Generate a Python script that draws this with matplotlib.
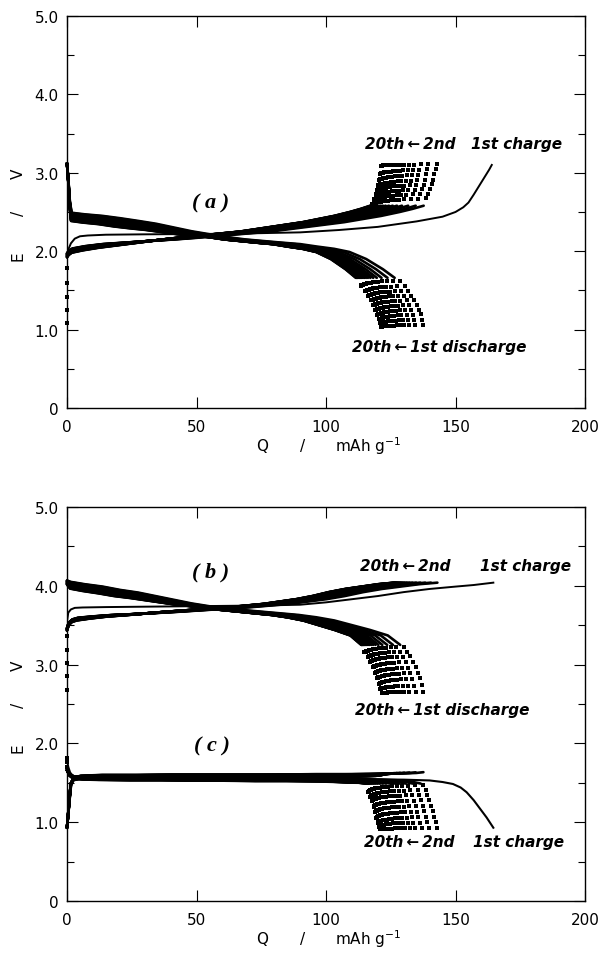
import numpy as np
import matplotlib
matplotlib.use("Agg")
import matplotlib.pyplot as plt
from matplotlib.ticker import MultipleLocator

# ---------------- axis / tick data ----------------
x_ticks = [0, 50, 100, 150, 200]
x_ticklabels = ["0", "50", "100", "150", "200"]
y_ticks = [0, 1, 2, 3, 4, 5]
y_ticklabels = ["0", "1.0", "2.0", "3.0", "4.0", "5.0"]

# ---------------- panel (a) ----------------
# discharge profile (fraction of cycle capacity, E / V), cycles 1..20
dis_a_frac = [0.0, 0.004, 0.008, 0.013, 0.05, 0.10, 0.15, 0.20, 0.25, 0.30, 0.35, 0.40,
              0.45, 0.50, 0.55, 0.60, 0.655, 0.70, 0.75, 0.793, 0.84, 0.887, 0.92]
dis_a_E = [3.12, 2.90, 2.62, 2.45, 2.43, 2.41, 2.38, 2.35, 2.32, 2.28, 2.24, 2.21,
           2.18, 2.15, 2.13, 2.11, 2.09, 2.06, 2.03, 1.99, 1.90, 1.77, 1.66]
dis_a_wt = [0, 0, 0.5, 1, 1, 1, 1, 0.9, 0.75, 0.55, 0.35, 0.15,
            0, 0, 0, 0, 0, 0, 0, 0, 0, 0, 0]
dis_a_tail_frac = [0.935, 0.948, 0.958, 0.967, 0.975, 0.982, 0.988, 0.993, 0.997, 1.0]
dis_a_tail_E = [1.60, 1.53, 1.47, 1.41, 1.35, 1.29, 1.23, 1.17, 1.11, 1.05]
dis_a_tail_wt = [0.6, 0.6, 0.6, 0.6, 0.6, 0.6, 0.6, 0.6, 0.4, 0.2]
dis_a_cap = [137.5, 134.5, 132.0, 130.0, 128.5, 127.3, 126.3, 125.5, 124.8, 124.2,
             123.7, 123.3, 122.9, 122.6, 122.3, 122.0, 121.8, 121.6, 121.4, 121.2]
dis_a_shift = [0.04, 0.035, 0.03, 0.025, 0.02, 0.012, 0.005, 0.0, -0.007, -0.014,
               -0.02, -0.026, -0.032, -0.038, -0.044, -0.05, -0.054, -0.058, -0.062, -0.065]

# charge profile, cycles 2..20
ch_a_pre_E = [1.08, 1.25, 1.42, 1.60, 1.78]
ch_a_frac = [0.0, 0.005, 0.015, 0.05, 0.10, 0.15, 0.20, 0.25, 0.30, 0.35, 0.40, 0.45,
             0.50, 0.55, 0.60, 0.65, 0.70, 0.75, 0.80, 0.85, 0.90, 0.935, 0.965]
ch_a_E = [1.95, 1.98, 2.01, 2.04, 2.07, 2.09, 2.11, 2.13, 2.15, 2.17, 2.19, 2.21,
          2.23, 2.25, 2.28, 2.31, 2.34, 2.37, 2.41, 2.45, 2.50, 2.54, 2.58]
ch_a_wt = [1, 1, 1, 1, 0.9, 0.7, 0.5, 0.3, 0.1, 0, 0, 0,
           0, 0, 0, 0, 0, 0, 0, 0, 0, 0, 0]
ch_a_tail_frac = [0.972, 0.978, 0.983, 0.987, 0.991, 0.994, 0.997, 1.0]
ch_a_tail_E = [2.64, 2.70, 2.76, 2.82, 2.88, 2.95, 3.02, 3.10]
ch_a_tail_wt = [1.3, 1.3, 1.3, 1.3, 1.3, 1.3, 1.0, 0.3]
ch_a_cap = [142.7, 139.5, 136.5, 134.0, 132.0, 130.3, 128.8, 127.5, 126.4, 125.5,
            124.7, 124.0, 123.4, 122.9, 122.5, 122.1, 121.8, 121.5, 121.3]
ch_a_shift = [0.025, 0.022, 0.019, 0.016, 0.013, 0.01, 0.007, 0.004, 0.0, -0.004,
              -0.007, -0.01, -0.013, -0.016, -0.019, -0.022, -0.025, -0.027, -0.03]

# first charge (absolute Q)
ch1_a_Q = [0.0, 0.5, 1.5, 3.0, 5.0, 8, 15, 30, 54, 75, 90, 105, 120, 135, 145, 150,
           153, 155, 157, 158.5, 160, 161.5, 163, 164]
ch1_a_E = [1.97, 2.02, 2.10, 2.16, 2.19, 2.20, 2.21, 2.215, 2.22, 2.23, 2.24, 2.27,
           2.31, 2.38, 2.44, 2.50, 2.56, 2.62, 2.72, 2.80, 2.88, 2.96, 3.04, 3.10]

# ---------------- panel (b) ----------------
dis_b_frac = [0.0, 0.01, 0.05, 0.10, 0.15, 0.20, 0.25, 0.30, 0.35, 0.40, 0.45, 0.50,
              0.55, 0.60, 0.65, 0.70, 0.75, 0.80, 0.85, 0.90, 0.935]
dis_b_E = [4.05, 4.02, 3.99, 3.96, 3.92, 3.89, 3.85, 3.81, 3.77, 3.74, 3.71, 3.69,
           3.67, 3.65, 3.63, 3.60, 3.56, 3.50, 3.44, 3.37, 3.25]
dis_b_wt = [0.6, 1, 1, 1, 0.9, 0.8, 0.6, 0.4, 0.2, 0, 0, 0,
            0, 0, 0, 0, 0, 0, 0, 0, 0]
dis_b_tail_frac = [0.945, 0.955, 0.963, 0.971, 0.978, 0.984, 0.990, 0.995, 1.0]
dis_b_tail_E = [3.20, 3.14, 3.08, 3.01, 2.94, 2.87, 2.80, 2.72, 2.65]
dis_b_tail_wt = [0.8, 0.8, 0.8, 0.8, 0.8, 0.8, 0.8, 0.5, 0.2]
dis_b_cap = [137.6, 134.6, 132.2, 130.2, 128.6, 127.4, 126.4, 125.6, 124.9, 124.3,
             123.8, 123.4, 123.0, 122.7, 122.4, 122.2, 122.0, 121.8, 121.6, 121.5]
dis_b_shift = [0.03, 0.026, 0.022, 0.018, 0.013, 0.008, 0.003, -0.003, -0.008, -0.013,
               -0.018, -0.023, -0.028, -0.033, -0.038, -0.042, -0.046, -0.05, -0.053, -0.056]

ch_b_pre_E = [2.68, 2.85, 3.02, 3.19, 3.36]
ch_b_frac = [0.0, 0.005, 0.015, 0.03, 0.07, 0.12, 0.20, 0.30, 0.40, 0.50, 0.60, 0.65,
             0.70, 0.75, 0.80, 0.85, 0.90, 0.95, 1.0]
ch_b_E = [3.45, 3.52, 3.56, 3.58, 3.60, 3.62, 3.64, 3.67, 3.70, 3.73, 3.77, 3.80,
          3.83, 3.87, 3.92, 3.96, 3.99, 4.02, 4.04]
ch_b_wt = [1, 1, 1, 1, 0.8, 0.6, 0.3, 0, 0, 0, 0, 0, 0, 0, 0, 0, 0, 0, 0]
ch_b_cap = [143.0, 140.5, 138.3, 136.4, 134.8, 133.4, 132.2, 131.2, 130.3, 129.6,
            129.0, 128.5, 128.0, 127.6, 127.3, 127.0, 126.7, 126.5, 126.3]
ch_b_shift = [0.015, 0.013, 0.011, 0.009, 0.007, 0.005, 0.003, 0.001, 0.0, -0.002,
              -0.004, -0.006, -0.008, -0.01, -0.012, -0.014, -0.016, -0.018, -0.02]

ch1_b_Q = [0.0, 0.5, 1.5, 3.0, 6.0, 15, 30, 45, 60, 75, 90, 100, 110, 120, 130, 140,
           150, 157, 164.6]
ch1_b_E = [3.55, 3.66, 3.70, 3.72, 3.725, 3.73, 3.735, 3.74, 3.745, 3.75, 3.76, 3.79,
           3.83, 3.87, 3.92, 3.96, 3.99, 4.01, 4.04]

# ---------------- panel (c) ----------------
dis_c_frac = [0.0, 0.004, 0.008, 0.012, 0.02, 0.04, 0.10, 0.20, 0.30, 0.40, 0.50,
              0.60, 0.70, 0.80, 0.90, 0.95, 0.98, 1.0]
dis_c_E = [0.93, 1.12, 1.32, 1.50, 1.57, 1.59, 1.60, 1.60, 1.605, 1.605, 1.605,
           1.605, 1.61, 1.61, 1.615, 1.62, 1.625, 1.635]
dis_c_wt = [0, 0, 0, 0.5, 1, 1, 1, 1, 1, 1, 1, 1, 1, 1, 1, 1, 1, 1]
dis_c_cap = [137.6, 134.6, 132.2, 130.2, 128.6, 127.4, 126.4, 125.6, 124.9, 124.3,
             123.8, 123.4, 123.0, 122.7, 122.4, 122.2, 122.0, 121.8, 121.6, 121.5]
dis_c_shift = [0.0, -0.002, -0.004, -0.006, -0.008, -0.01, -0.012, -0.014, -0.016, -0.018,
               -0.02, -0.022, -0.024, -0.026, -0.028, -0.03, -0.032, -0.034, -0.036, -0.038]

ch_c_pre_E = [1.82, 1.76, 1.70]
ch_c_frac = [0.0, 0.008, 0.02, 0.05, 0.10, 0.20, 0.30, 0.40, 0.50, 0.60, 0.70, 0.80,
             0.85, 0.90, 0.93, 0.955]
ch_c_E = [1.66, 1.60, 1.57, 1.56, 1.555, 1.55, 1.55, 1.545, 1.545, 1.54, 1.54, 1.535,
          1.53, 1.52, 1.51, 1.49]
ch_c_wt = [0, 0.5, 1, 1, 1, 1, 1, 1, 1, 1, 1, 1, 1, 1, 0.5, 0]
ch_c_tail_frac = [0.962, 0.968, 0.973, 0.978, 0.983, 0.987, 0.991, 0.995, 1.0]
ch_c_tail_E = [1.44, 1.38, 1.32, 1.25, 1.18, 1.11, 1.04, 0.98, 0.92]
ch_c_tail_wt = [3.0, 3.0, 3.0, 3.0, 3.0, 3.0, 3.0, 2.0, 0.5]
ch_c_cap = [143.0, 139.8, 136.9, 134.4, 132.3, 130.5, 129.0, 127.7, 126.5, 125.5,
            124.6, 123.8, 123.1, 122.5, 122.0, 121.6, 121.3, 121.1, 121.0]
ch_c_shift = [0.01, 0.009, 0.008, 0.007, 0.006, 0.005, 0.004, 0.003, 0.002, 0.0,
              -0.002, -0.004, -0.006, -0.008, -0.01, -0.012, -0.014, -0.016, -0.018]

ch1_c_Q = [0.0, 0.5, 1.2, 2.5, 5, 20, 50, 80, 110, 130, 140, 145, 149, 152, 154.3,
           157, 159.5, 162, 164.6]
ch1_c_E = [1.78, 1.70, 1.63, 1.58, 1.56, 1.555, 1.55, 1.55, 1.545, 1.54, 1.53, 1.51,
           1.485, 1.44, 1.38, 1.28, 1.17, 1.06, 0.93]

# ---------------- figure ----------------
fig = plt.figure(figsize=(6.02, 9.54), dpi=100)
ax_a = fig.add_axes([0.1113, 0.5713, 0.8605, 0.4109])
ax_b = fig.add_axes([0.1113, 0.0545, 0.8605, 0.4130])

LW = 1.9
MS = 2.3


def draw_cycles(ax, frac, E, wt, caps, shifts, tail_frac=None, tail_E=None,
                tail_wt=None, pre_E=None):
    frac = np.asarray(frac)
    E = np.asarray(E)
    wt = np.asarray(wt)
    for cap, s in zip(caps, shifts):
        ax.plot(frac * cap, E + s * wt, color="black", lw=LW, solid_capstyle="round",
                solid_joinstyle="round", clip_on=False, zorder=3)
        if tail_frac is not None:
            ax.plot(np.asarray(tail_frac) * cap,
                    np.asarray(tail_E) + s * np.asarray(tail_wt),
                    linestyle="none", marker="s",
                    ms=MS, mec="black", mfc="black", mew=0, clip_on=False, zorder=3)
        if pre_E is not None:
            ax.plot(np.zeros(len(pre_E)), pre_E, linestyle="none", marker="s", ms=MS,
                    mec="black", mfc="black", mew=0, clip_on=False, zorder=3)


# panel (a)
draw_cycles(ax_a, dis_a_frac, dis_a_E, dis_a_wt, dis_a_cap, dis_a_shift,
            dis_a_tail_frac, dis_a_tail_E, dis_a_tail_wt)
draw_cycles(ax_a, ch_a_frac, ch_a_E, ch_a_wt, ch_a_cap, ch_a_shift,
            ch_a_tail_frac, ch_a_tail_E, ch_a_tail_wt, ch_a_pre_E)
ax_a.plot(ch1_a_Q, ch1_a_E, color="black", lw=1.4, zorder=3)

# panel (b)
draw_cycles(ax_b, dis_b_frac, dis_b_E, dis_b_wt, dis_b_cap, dis_b_shift,
            dis_b_tail_frac, dis_b_tail_E, dis_b_tail_wt)
draw_cycles(ax_b, ch_b_frac, ch_b_E, ch_b_wt, ch_b_cap, ch_b_shift, pre_E=ch_b_pre_E)
ax_b.plot(ch1_b_Q, ch1_b_E, color="black", lw=1.4, zorder=3)

# panel (c) (same axes as b)
draw_cycles(ax_b, dis_c_frac, dis_c_E, dis_c_wt, dis_c_cap, dis_c_shift)
draw_cycles(ax_b, ch_c_frac, ch_c_E, ch_c_wt, ch_c_cap, ch_c_shift,
            ch_c_tail_frac, ch_c_tail_E, ch_c_tail_wt, ch_c_pre_E)
ax_b.plot(ch1_c_Q, ch1_c_E, color="black", lw=1.5, zorder=3)

tick_font = dict(family="DejaVu Sans", size=11)
ann_font = dict(family=["DejaVu Sans"], size=11, weight="bold", style="italic")
panel_font = dict(family=["Liberation Serif", "DejaVu Serif"], size=16,
                  weight="bold", style="italic")

for ax in (ax_a, ax_b):
    ax.set_xlim(0, 200)
    ax.set_ylim(0, 5)
    ax.set_xticks(x_ticks)
    ax.set_xticklabels(x_ticklabels, **tick_font)
    ax.set_yticks(y_ticks)
    ax.set_yticklabels(y_ticklabels, **tick_font)
    ax.yaxis.set_minor_locator(MultipleLocator(0.5))
    ax.tick_params(which="major", direction="in", top=True, right=True,
                   length=8, width=0.8, colors="black")
    ax.tick_params(axis="x", which="major", pad=8)
    ax.tick_params(axis="y", which="major", pad=6)
    ax.tick_params(which="minor", direction="in", right=True, length=5, width=0.8)
    for sp in ax.spines.values():
        sp.set_linewidth(1.0)
    # axis labels
    ax.annotate("Q", xy=(75.4, 0), xycoords=("data", "axes fraction"),
                xytext=(0, -27), textcoords="offset points", ha="center", va="center",
                **tick_font)
    ax.annotate("/", xy=(91, 0), xycoords=("data", "axes fraction"),
                xytext=(0, -27), textcoords="offset points", ha="center", va="center",
                **tick_font)
    ax.annotate("mAh g$^{-1}$", xy=(103.6, 0), xycoords=("data", "axes fraction"),
                xytext=(0, -27), textcoords="offset points", ha="left", va="center",
                **tick_font)
    for lab, yv in (("E", 1.95), ("/", 2.5), ("V", 3.0)):
        ax.annotate(lab, xy=(0, yv), xycoords=("axes fraction", "data"),
                    xytext=(-35, 0), textcoords="offset points", ha="center",
                    va="center", rotation=90, **tick_font)

# annotations panel (a)
ax_a.text(115, 3.37, "20th\u2009\u2190\u20092nd", ha="left", va="center", **ann_font)
ax_a.text(156, 3.37, "1st charge", ha="left", va="center", **ann_font)
ax_a.text(110, 0.78, "20th\u2009\u2190\u20091st discharge", ha="left", va="center", **ann_font)
ax_a.text(55.5, 2.62, "( a )", ha="center", va="center", **panel_font)

# annotations panel (b)/(c)
ax_b.text(113, 4.26, "20th\u2009\u2190\u20092nd", ha="left", va="center", **ann_font)
ax_b.text(159.4, 4.26, "1st charge", ha="left", va="center", **ann_font)
ax_b.text(111, 2.43, "20th\u2009\u2190\u20091st discharge", ha="left", va="center", **ann_font)
ax_b.text(114.5, 0.76, "20th\u2009\u2190\u20092nd", ha="left", va="center", **ann_font)
ax_b.text(156.7, 0.76, "1st charge", ha="left", va="center", **ann_font)
ax_b.text(55.5, 4.18, "( b )", ha="center", va="center", **panel_font)
ax_b.text(56, 1.97, "( c )", ha="center", va="center", **panel_font)

fig.savefig("out.png", dpi=100)
